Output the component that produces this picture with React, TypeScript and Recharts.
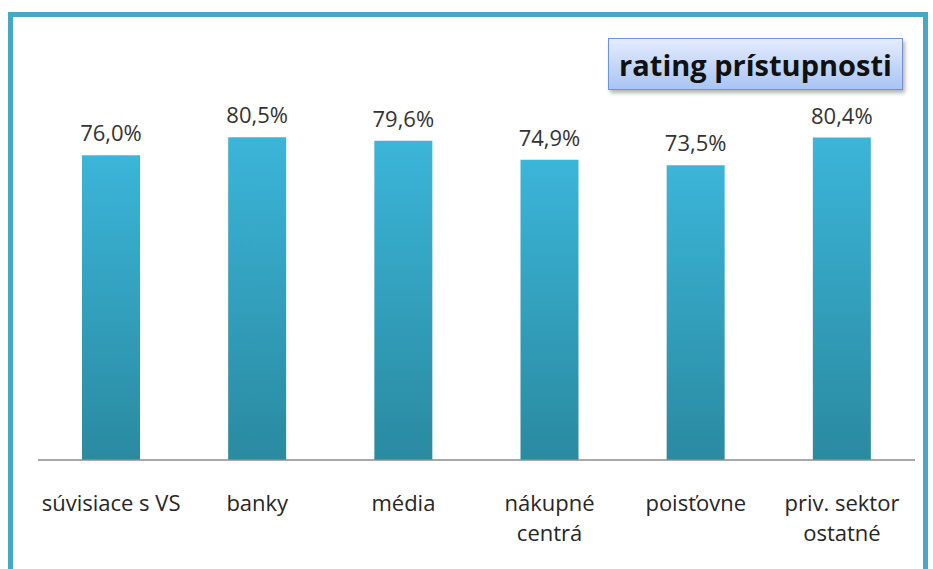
import { BarChart, Bar, XAxis, YAxis, LabelList } from "recharts"

const categories = ["súvisiace s VS", "banky", "média", "nákupné\ncentrá", "poisťovne", "priv. sektor\nostatné"]
const ratings = [76.0, 80.5, 79.6, 74.9, 73.5, 80.4]
const title = "rating prístupnosti"

const data = categories.map((name, i) => ({ name, value: ratings[i] }))

const font = "'Open Sans', sans-serif"

const fmt = (v: any) => `${Number(v).toFixed(1).replace(".", ",")}%`

function CategoryTick(props: any) {
  const { x, y, payload } = props
  const lines = String(payload.value).split("\n")
  return (
    <g transform={`translate(${x},${y})`}>
      {lines.map((line, i) => (
        <text key={i} x={0} y={43 + i * 30} textAnchor="middle" fill="#262626" fontSize={22} fontFamily={font}>
          {line}
        </text>
      ))}
    </g>
  )
}

export default function App() {
  return (
    <div style={{ position: "absolute", left: 0, top: 0, width: 933, height: 569, background: "#fff" }}>
      <div
        style={{
          position: "absolute",
          left: 8,
          top: 12,
          width: 920,
          height: 560,
          border: "5px solid #45a8c4",
          borderBottom: "none",
          boxSizing: "border-box",
        }}
      />
      <BarChart
        width={933}
        height={569}
        data={data}
        margin={{ top: 59, right: 18, left: 38, bottom: 49 }}
      >
        <defs>
          <linearGradient id="barFill" x1="0" y1="0" x2="0" y2="1">
            <stop offset="0%" stopColor="#3bb5d9" />
            <stop offset="100%" stopColor="#2a8aa0" />
          </linearGradient>
        </defs>
        <XAxis
          dataKey="name"
          height={60}
          interval={0}
          tickLine={false}
          axisLine={{ stroke: "#8c8c8c", strokeWidth: 1.5 }}
          tick={<CategoryTick />}
        />
        <YAxis hide domain={[0, 100]} />
        <Bar dataKey="value" fill="url(#barFill)" barSize={58} isAnimationActive={false}>
          <LabelList
            dataKey="value"
            position="top"
            offset={14}
            formatter={fmt}
            style={{ fill: "#333", fontSize: 22, fontFamily: font }}
          />
        </Bar>
      </BarChart>
      <div
        style={{
          position: "absolute",
          left: 608,
          top: 38,
          width: 295,
          height: 52,
          boxSizing: "border-box",
          border: "1.5px solid #6f92d8",
          background: "linear-gradient(#e4ecfd, #a9c4f4)",
          boxShadow: "2px 3px 4px rgba(0,0,0,0.3)",
          display: "flex",
          alignItems: "center",
          justifyContent: "center",
          fontFamily: font,
          fontWeight: 700,
          fontSize: 29,
          color: "#111",
        }}
      >
        {title}
      </div>
    </div>
  )
}
